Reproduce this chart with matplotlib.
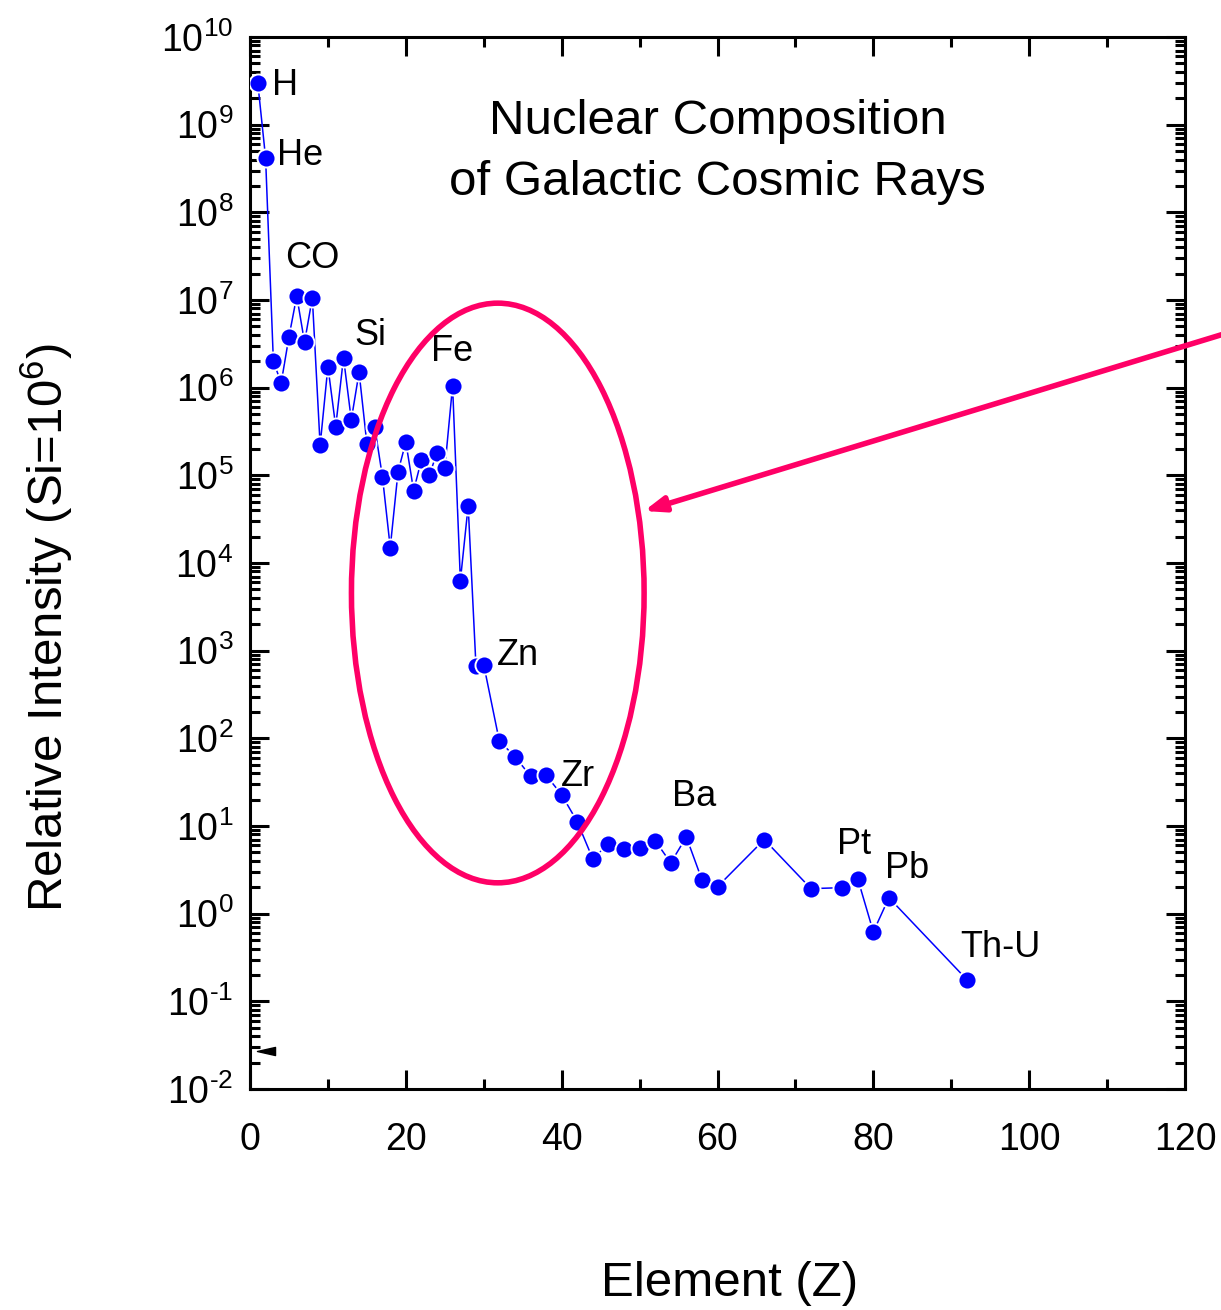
import math
import matplotlib
matplotlib.use("Agg")
import matplotlib.pyplot as plt
from matplotlib.patches import Ellipse
from matplotlib.path import Path
from matplotlib.ticker import LogLocator, MultipleLocator, FuncFormatter, NullFormatter

plt.rcParams['font.family'] = ['Liberation Sans', 'DejaVu Sans']
plt.rcParams['mathtext.fontset'] = 'custom'
plt.rcParams['mathtext.rm'] = 'Liberation Sans'
plt.rcParams['mathtext.it'] = 'Liberation Sans'
plt.rcParams['mathtext.bf'] = 'Liberation Sans'

# Data: atomic number Z and relative intensity (Si = 1e6)
z = [1, 2, 3, 4, 5, 6, 7, 8, 9, 10, 11, 12, 13, 14, 15, 16, 17, 18, 19, 20,
     21, 22, 23, 24, 25, 26, 27, 28, 29, 30, 32, 34, 36, 38, 40, 42, 44, 46,
     48, 50, 52, 54, 56, 58, 60, 66, 72, 76, 78, 80, 82, 92]
intensity = [2.98e9, 4.2e8, 2.0e6, 1.13e6, 3.8e6, 1.11e7, 3.3e6, 1.06e7, 2.2e5, 1.74e6,
             3.6e5, 2.2e6, 4.3e5, 1.5e6, 2.3e5, 3.6e5, 9.6e4, 1.5e4, 1.1e5, 2.4e5,
             6.7e4, 1.5e5, 1.0e5, 1.8e5, 1.2e5, 1.05e6, 6.3e3, 4.5e4, 6.7e2, 6.9e2,
             93, 62, 37, 38, 22.7, 11.2, 4.2, 6.3,
             5.5, 5.6, 6.8, 3.8, 7.5, 2.44, 2.03, 7.0, 1.93, 1.98, 2.5, 0.62, 1.52, 0.177]

element_labels = ['H', 'He', 'CO', 'Si', 'Fe', 'Zn', 'Zr', 'Ba', 'Pt', 'Pb', 'Th-U']
label_x = [2.83, 3.47, 4.5, 13.36, 23.25, 31.74, 39.9, 54.1, 75.3, 81.5, 91.2]
label_logy = [9.45, 8.65, 7.47, 6.60, 6.41, 2.945, 1.565, 1.337, 0.79, 0.516, -0.385]

marker_x = [2.05]
marker_y = [0.027]

title_text = "Nuclear Composition\nof Galactic Cosmic Rays"
xlabel_text = "Element (Z)"
ylabel_text = "Relative Intensity (Si=10$^{6}$)"

W, H = 1221, 1310
fig = plt.figure(figsize=(W / 100, H / 100), dpi=100)
ax = fig.add_axes([250 / W, 1 - 1089 / H, 935 / W, 1052 / H])

ax.plot(z, intensity, color='#0000FF', lw=1.1, marker='o', ms=13,
        mfc='#0000FF', mec='white', mew=1.4, zorder=3)

tri = Path([(-1, 0), (1, 0.45), (1, -0.45), (-1, 0)],
           [Path.MOVETO, Path.LINETO, Path.LINETO, Path.CLOSEPOLY])
ax.plot(marker_x, marker_y, marker=tri, color='black', ms=13, ls='none',
        clip_on=False, zorder=4)

ax.set_yscale('log')
ax.set_xlim(0, 120)
ax.set_ylim(1e-2, 1e10)


def yfmt(v, p):
    e = int(round(math.log10(v)))
    s = str(e).replace('-', '\u2010')
    return r'$10^{%s}$' % s


ax.xaxis.set_major_locator(MultipleLocator(20))
ax.xaxis.set_minor_locator(MultipleLocator(10))
ax.yaxis.set_major_locator(LogLocator(base=10, numticks=20))
ax.yaxis.set_minor_locator(LogLocator(base=10, subs=range(2, 10), numticks=20))
ax.yaxis.set_minor_formatter(NullFormatter())
ax.yaxis.set_major_formatter(FuncFormatter(yfmt))

for s in ax.spines.values():
    s.set_linewidth(2.2)
ax.tick_params(which='both', direction='in', top=True, right=True, width=2.2)
ax.tick_params(which='major', length=14, labelsize=27)
ax.tick_params(which='minor', length=7.5)
ax.tick_params(axis='x', which='major', pad=24)
ax.tick_params(axis='y', which='major', pad=12)

for lab, lx, ly in zip(element_labels, label_x, label_logy):
    ax.text(lx, 10 ** ly, lab, fontsize=26, ha='left', va='center', zorder=5)

ax.text(0.5, 0.8905, title_text, transform=ax.transAxes, ha='center', va='center',
        fontsize=35.5, linespacing=1.47)

ell = Ellipse((0.265, 0.4715), 0.313, 0.551, transform=ax.transAxes, fill=False,
              ec='#FF0066', lw=4, zorder=6, clip_on=False)
ax.add_patch(ell)

ax.annotate('', xy=(644 / W, 1 - 511 / H), xycoords='figure fraction',
            xytext=(1.005, 1 - 333 / H), textcoords='figure fraction',
            arrowprops=dict(arrowstyle='-|>,head_length=1.2,head_width=0.45',
                            color='#FF0066', lw=4, shrinkA=0, shrinkB=0),
            annotation_clip=False, zorder=7)

fig.text(730 / W, 1 - 1283 / H, xlabel_text, ha='center', va='center', fontsize=35.5)
fig.text(47 / W, 1 - 628 / H, ylabel_text, ha='center', va='center', fontsize=35.5, rotation=90)

fig.savefig('out.png', dpi=100, facecolor='white')
